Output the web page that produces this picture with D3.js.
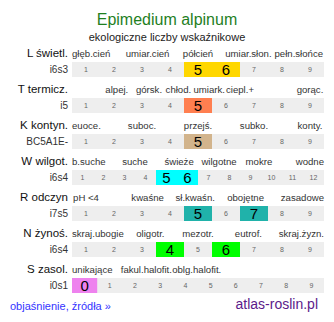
<!DOCTYPE html>
<html>
<head>
<meta charset="utf-8">
<script src="https://cdn.jsdelivr.net/npm/d3@7"></script>
<style>
  html, body { margin: 0; padding: 0; background: #fff; }
  svg { display: block; font-family: Arial, "Liberation Sans", sans-serif; }
</style>
</head>
<body>
<svg id="chart" width="334" height="322"></svg>
<script>
// Ellenberg-style indicator values for Epimedium alpinum
const title = "Epimedium alpinum";
const subtitle = "ekologiczne liczby wskaźnikowe";

const rowNames = ["L świetl.", "T termicz.", "K kontyn.", "W wilgot.", "R odczyn", "N żynoś.", "S zasol."];
const rowCodes = ["i6s3", "i5", "BC5A1E-", "i6s4", "i7s5", "i6s4", "i0s1"];
const rowRanges = [[1, 9], [1, 9], [1, 9], [1, 12], [1, 9], [1, 9], [0, 9]];
const rowValues = [[5, 6], [5], [5], [5, 6], [5, 7], [4, 6], [0]];
const rowColors = ["#ffd700", "#ff7f50", "#d2b48c", "#00ffff", "#20b2aa", "#00ff00", "#ee82ee"];

// descriptive terms for each scale, with the scale value each term sits over
const termsL = [["głęb.cień", 1], ["umiar.cień", 3.2], ["półcień", 5], ["umiar.słon.", 6.8], ["pełn.słońce", 8.6]];
const termsT = [["alpej.", 2.1], ["górsk.", 3.25], ["chłod.", 4.3], ["umiark.", 5.4], ["ciepl.+", 6.5], ["gorąc.", 9]];
const termsK = [["euoce.", 1], ["suboc.", 3], ["przejś.", 5], ["subko.", 7], ["konty.", 9]];
const termsW = [["b.suche", 1], ["suche", 3.5], ["świeże", 5.6], ["wilgotne", 7.5], ["mokre", 9.4], ["wodne", 12]];
const termsR = [["pH <4", 1], ["kwaśne", 3.2], ["sł.kwaśn.", 4.9], ["obojętne", 6.7], ["zasadowe", 9]];
const termsN = [["skraj.ubogie", 1], ["oligotr.", 3.3], ["mezotr.", 5], ["eutrof.", 6.8], ["skraj.żyzn.", 9]];
const termsS = [["unikające", 0], ["fakul.halofit.", 2.45], ["oblg.halofit.", 4.45]];
const rowTerms = [termsL, termsT, termsK, termsW, termsR, termsN, termsS];

const footLink = "objaśnienie, źródła »";
const footSite = "atlas-roslin.pl";

const svg = d3.select("#chart");
const left = 72, right = 324;
const firstBase = 57, rowStep = 36, barOffset = 5, barH = 15;

svg.append("text")
  .attr("x", 167).attr("y", 25)
  .attr("text-anchor", "middle")
  .attr("font-size", 16)
  .attr("fill", "#1f7f1f")
  .text(title);

svg.append("text")
  .attr("x", 167).attr("y", 41)
  .attr("text-anchor", "middle")
  .attr("font-size", 11)
  .attr("fill", "#222")
  .text(subtitle);

rowNames.forEach((name, r) => {
  const [lo, hi] = rowRanges[r];
  const x = d3.scaleLinear().domain([lo - 0.5, hi + 0.5]).range([left, right]);
  const base = firstBase + r * rowStep;
  const barY = base + barOffset;
  const g = svg.append("g");

  g.append("text")
    .attr("x", 68).attr("y", base)
    .attr("text-anchor", "end")
    .attr("font-size", 11.5)
    .attr("fill", "#111")
    .text(name);

  g.append("text")
    .attr("x", 68).attr("y", barY + barH / 2 + 3.5)
    .attr("text-anchor", "end")
    .attr("font-size", 10)
    .attr("fill", "#333")
    .text(rowCodes[r]);

  // term labels, kept inside the bar span
  g.selectAll("text.term").data(rowTerms[r]).join("text")
    .attr("class", "term")
    .attr("y", base)
    .attr("font-size", 9.6)
    .attr("fill", "#333")
    .text(d => d[0])
    .each(function (d) {
      const w = this.getComputedTextLength();
      let x0 = x(d[1]) - w / 2;
      x0 = Math.max(left, Math.min(right - w, x0));
      d3.select(this).attr("x", x0);
    });

  const cells = d3.range(lo, hi + 1);
  const sel = new Set(rowValues[r]);

  g.append("rect")
    .attr("x", left).attr("y", barY)
    .attr("width", right - left).attr("height", barH)
    .attr("fill", "#eeeeee");

  g.selectAll("rect.hi").data(cells.filter(c => sel.has(c))).join("rect")
    .attr("class", "hi")
    .attr("x", c => x(c - 0.5)).attr("y", barY)
    .attr("width", c => x(c + 0.5) - x(c - 0.5)).attr("height", barH)
    .attr("fill", rowColors[r]);

  g.selectAll("text.num").data(cells).join("text")
    .attr("class", "num")
    .attr("x", c => x(c)).attr("y", c => sel.has(c) ? barY + 13 : barY + 10)
    .attr("text-anchor", "middle")
    .attr("font-size", c => sel.has(c) ? 15 : 7)
    .attr("fill", c => sel.has(c) ? "#000" : "#666")
    .text(c => c);
});

svg.append("text")
  .attr("x", 10).attr("y", 310)
  .attr("font-size", 11)
  .attr("fill", "#3333ff")
  .text(footLink);

svg.append("text")
  .attr("x", 318).attr("y", 309)
  .attr("text-anchor", "end")
  .attr("font-size", 14)
  .attr("fill", "#5b1a8a")
  .text(footSite);
</script>
</body>
</html>
